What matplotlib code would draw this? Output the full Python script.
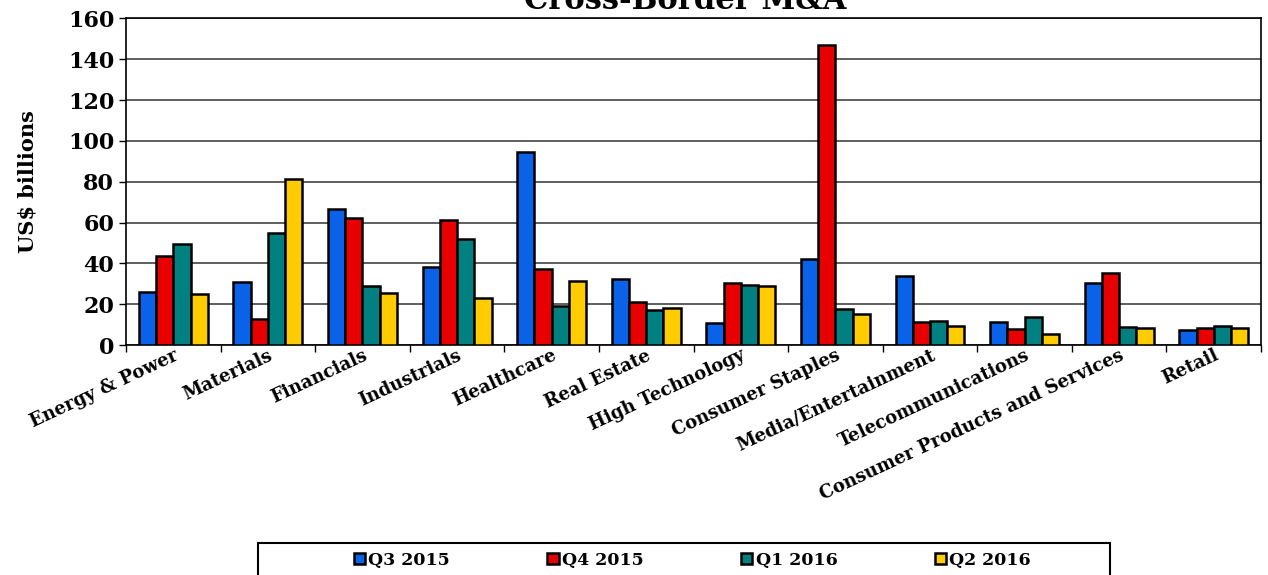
import numpy as np
import matplotlib
matplotlib.use("Agg")
from matplotlib import pyplot as plt
from matplotlib.patches import Rectangle

plt.rcParams['font.family'] = ['DejaVu Serif']
plt.rcParams['font.weight'] = 'bold'
plt.rcParams['axes.labelweight'] = 'bold'

sectors = ['Energy & Power', 'Materials', 'Financials', 'Industrials', 'Healthcare',
           'Real Estate', 'High Technology', 'Consumer Staples', 'Media/Entertainment',
           'Telecommunications', 'Consumer Products and Services', 'Retail']
quarters = ['Q3 2015', 'Q4 2015', 'Q1 2016', 'Q2 2016']

q3_2015 = [26, 31, 66.7, 38, 94.4, 32.2, 10.8, 42.3, 33.7, 11.1, 30.5, 7.2]
q4_2015 = [43.5, 12.6, 62.4, 61.1, 37.2, 21.2, 30.4, 147, 11.1, 7.8, 35.3, 8.3]
q1_2016 = [49.5, 55, 28.8, 52.1, 19, 17, 29.2, 17.8, 11.9, 13.9, 8.7, 9.3]
q2_2016 = [25, 81.5, 25.7, 22.9, 31.5, 18.1, 28.8, 15.2, 9.5, 5.4, 8.3, 8.2]

series = [q3_2015, q4_2015, q1_2016, q2_2016]
colors = ['#0A62E8', '#E80000', '#008080', '#FFCC00']

fig = plt.figure(figsize=(12.68, 5.75), dpi=100)
ax = fig.add_axes([0.0994, 0.4, 0.8951, 0.568])

x = np.arange(len(sectors))
width = 0.182
for i, (vals, col, lab) in enumerate(zip(series, colors, quarters)):
    ax.bar(x + (i - 1.5) * width, vals, width, color=col, edgecolor='black',
           linewidth=1.8, label=lab, zorder=3)

ax.set_xlim(-0.5, len(sectors) - 0.5)
ax.set_ylim(0, 160)
ax.set_yticks(np.arange(0, 161, 20))
ax.tick_params(axis='y', labelsize=16, length=5, width=1)
ax.yaxis.grid(True, color='#333333', linewidth=1.1, zorder=0)

# category labels at centers, tick marks on the boundaries
ax.set_xticks(x)
ax.set_xticklabels(sectors, rotation=25, ha='right', rotation_mode='anchor', fontsize=13)
ax.tick_params(axis='x', which='major', length=0, pad=1)
ax.set_xticks(np.arange(-0.5, len(sectors), 1), minor=True)
ax.tick_params(axis='x', which='minor', length=5, width=1)

for s in ax.spines.values():
    s.set_linewidth(1.2)

ax.set_ylabel('US$ billions', fontsize=15, labelpad=22)

fig.text(0.540, 1 - 9 / 575, 'Cross-Border M&A', ha='center', va='baseline',
         fontsize=22, fontweight='bold')

# legend box along the bottom edge
fig.patches.append(Rectangle((258 / 1268, -0.01), (1110 - 258) / 1268, (575 - 543) / 575 + 0.01,
                             transform=fig.transFigure, fill=False, edgecolor='black',
                             linewidth=1.5))
fig.legend(loc='center', bbox_to_anchor=(0.546, 1 - 560 / 575), ncol=4, frameon=False,
           fontsize=12.5, handlelength=0.65, handleheight=0.65, handletextpad=0.2,
           columnspacing=5.6)

fig.savefig('out.png', dpi=100)
